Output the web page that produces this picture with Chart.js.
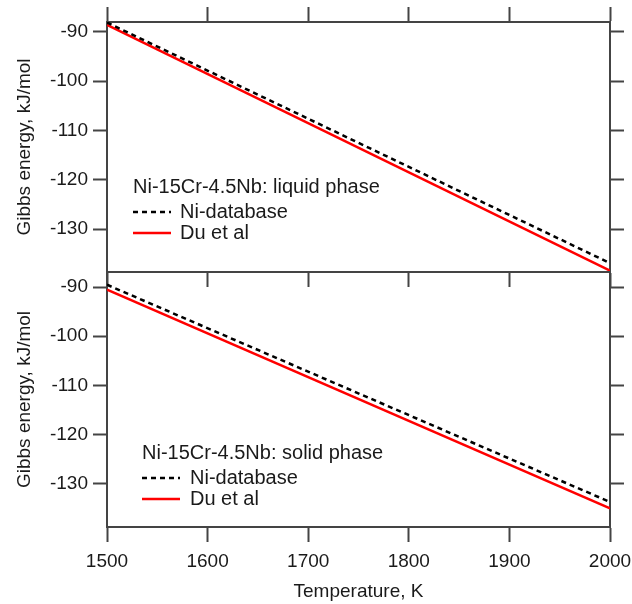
<!DOCTYPE html>
<html>
<head>
<meta charset="utf-8">
<script src="https://cdn.jsdelivr.net/npm/chart.js@4.4.1/dist/chart.umd.min.js"></script>
<style>
  html, body { margin: 0; padding: 0; background: #fff; }
  #wrap { position: relative; width: 632px; height: 604px; }
  canvas { position: absolute; left: 0; }
  #topChart { top: 0; }
  #bottomChart { top: 260px; }
</style>
</head>
<body>
<div id="wrap">
  <canvas id="topChart" width="632" height="290"></canvas>
  <canvas id="bottomChart" width="632" height="344"></canvas>
</div>
<script>
// data (kJ/mol)
const temps = [1500, 2000];
const liquidNiDb = [-88.1, -136.9];
const liquidDu = [-88.6, -138.4];
const solidNiDb = [-89.5, -133.8];
const solidDu = [-90.5, -135.1];

const xTicks = [1500, 1600, 1700, 1800, 1900, 2000];
const yTicks = [-90, -100, -110, -120, -130];

const FONT = '"Liberation Sans", Arial, sans-serif';
const AXIS = '#444';
const TEXT = '#1a1a1a';

// legend drawn inside the plot, with a heading line
const panelLegend = {
  id: 'panelLegend',
  afterDraw(chart, args, opts) {
    const ctx = chart.ctx;
    ctx.save();
    ctx.font = '20px ' + FONT;
    ctx.fillStyle = TEXT;
    ctx.textBaseline = 'middle';
    ctx.textAlign = 'left';
    ctx.fillText(opts.title, opts.x, opts.y);
    chart.data.datasets.forEach((ds, i) => {
      const y = opts.y + opts.rowGap * (i + 1) + (i === 0 ? 2 : 0);
      ctx.beginPath();
      ctx.strokeStyle = ds.borderColor;
      ctx.lineWidth = ds.borderWidth;
      ctx.setLineDash(ds.borderDash || []);
      ctx.moveTo(opts.x, y);
      ctx.lineTo(opts.x + 38, y);
      ctx.stroke();
      ctx.setLineDash([]);
      ctx.fillText(ds.label, opts.textX, y);
    });
    ctx.restore();
  }
};

function xAxis(pos, opts) {
  return Object.assign({
    type: 'linear', position: pos, min: 1500, max: 2000,
    afterBuildTicks: s => { s.ticks = xTicks.map(v => ({ value: v })); },
    grid: { drawOnChartArea: false, tickLength: 15, tickColor: AXIS, tickWidth: 2 },
    border: { display: true, color: AXIS, width: 2 },
    ticks: { display: false }
  }, opts);
}

function yAxis(pos, min, max, opts) {
  return Object.assign({
    type: 'linear', position: pos, min: min, max: max,
    afterBuildTicks: s => { s.ticks = yTicks.map(v => ({ value: v })); },
    grid: { drawOnChartArea: false, tickLength: 14, tickColor: AXIS, tickWidth: 2 },
    border: { display: true, color: AXIS, width: 2 },
    ticks: { display: false }
  }, opts);
}

function makePanel(id, niData, duData, yMin, yMax, sizes, legend, lastPanel) {
  const ctx = document.getElementById(id).getContext('2d');
  return new Chart(ctx, {
    type: 'line',
    data: {
      datasets: [
        {
          label: 'Ni-database',
          data: temps.map((t, i) => ({ x: t, y: niData[i] })),
          borderColor: '#000',
          borderWidth: 2.5,
          borderDash: [5, 4],
          pointRadius: 0,
          fill: false
        },
        {
          label: 'Du et al',
          data: temps.map((t, i) => ({ x: t, y: duData[i] })),
          borderColor: '#ff0000',
          borderWidth: 2.5,
          pointRadius: 0,
          fill: false
        }
      ]
    },
    options: {
      responsive: false,
      animation: false,
      devicePixelRatio: 1,
      layout: { padding: 0 },
      plugins: {
        legend: { display: false },
        tooltip: { enabled: false },
        panelLegend: legend
      },
      scales: {
        x: xAxis('bottom', {
          afterFit: s => { s.height = sizes.bottom; s.paddingLeft = 0; s.paddingRight = 0; },
          ticks: lastPanel
            ? { display: true, padding: 8, color: TEXT, font: { size: 19, family: FONT }, maxRotation: 0, callback: v => String(v) }
            : { display: false },
          title: lastPanel
            ? { display: true, text: 'Temperature, K', color: TEXT, font: { size: 19, family: FONT }, padding: { top: 0, bottom: 1 } }
            : { display: false }
        }),
        x2: xAxis('top', {
          afterFit: s => { s.height = sizes.top; s.paddingLeft = 0; s.paddingRight = 0; },
          grid: { drawOnChartArea: false, drawTicks: !lastPanel, tickLength: 15, tickColor: AXIS, tickWidth: 2 }
        }),
        y: yAxis('left', yMin, yMax, {
          afterFit: s => { s.width = 107; s.paddingTop = 0; s.paddingBottom = 0; },
          ticks: { display: true, padding: 5, color: TEXT, font: { size: 19, family: FONT } },
          title: { display: true, text: 'Gibbs energy, kJ/mol', color: TEXT, font: { size: 19, family: FONT }, padding: { top: 13, bottom: 0 } }
        }),
        y2: yAxis('right', yMin, yMax, {
          afterFit: s => { s.width = 22; s.paddingTop = 0; s.paddingBottom = 0; }
        })
      }
    },
    plugins: [panelLegend]
  });
}

makePanel('topChart', liquidNiDb, liquidDu, -138.7, -88.0,
  { top: 22, bottom: 18 },
  { title: 'Ni-15Cr-4.5Nb: liquid phase', x: 133, y: 187, rowGap: 23, textX: 180 },
  false);

makePanel('bottomChart', solidNiDb, solidDu, -138.9, -86.9,
  { top: 12, bottom: 77 },
  { title: 'Ni-15Cr-4.5Nb: solid phase', x: 142, y: 193, rowGap: 23, textX: 190 },
  true);
</script>
</body>
</html>
